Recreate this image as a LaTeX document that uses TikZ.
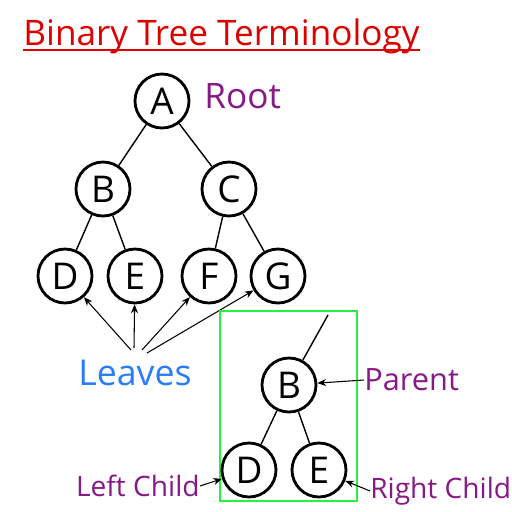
\documentclass[tikz,border=0pt]{standalone}
\usepackage{fontspec}
\setmainfont{Open Sans}
\usepackage{xcolor}
\usetikzlibrary{arrows.meta, positioning}

\definecolor{titlered}{RGB}{220,0,0}
\definecolor{notepurple}{RGB}{135,25,135}
\definecolor{leafblue}{RGB}{40,125,250}
\definecolor{boxgreen}{RGB}{40,240,60}

\begin{document}
\begin{tikzpicture}[
        x=0.02cm, y=-0.02cm,
        treenode/.style={circle, draw, line width=1.6pt, minimum size=1.08cm, inner sep=0pt, font=\fontsize{21}{24}\selectfont},
        note/.style={text=notepurple, inner sep=0pt},
        edge/.style={line width=0.8pt},
        pointer/.style={->, >={Stealth[length=5pt, width=4pt]}, line width=0.6pt}
    ]
    \useasboundingbox (0,0) rectangle (512,512);
    % title
    \node[text=titlered, anchor=base west, inner sep=0pt, font=\fontsize{20}{24}\selectfont] (title) at (23,45) {Binary Tree Terminology};
    \draw[titlered, line width=1pt] ([yshift=-3pt]title.base west) -- ([yshift=-3pt]title.base east);

    % the tree
    \node[treenode] (A) at (162,101) {A};
    \node[treenode] (B) at (103,189) {B};
    \node[treenode] (C) at (229,189) {C};
    \node[treenode] (D) at (65,276) {D};
    \node[treenode] (E) at (135,276) {E};
    \node[treenode] (F) at (209,276) {F};
    \node[treenode] (G) at (278,276) {G};
    \draw[edge] (A) -- (B);
    \draw[edge] (A) -- (C);
    \draw[edge] (B) -- (D);
    \draw[edge] (B) -- (E);
    \draw[edge] (C) -- (F);
    \draw[edge] (C) -- (G);
    \node[note, anchor=west, font=\fontsize{20}{24}\selectfont] (root) at (204,96) {Root};

    % leaves
    \node[text=leafblue, inner sep=0pt, font=\fontsize{20.3}{24}\selectfont] (leaves) at (135,373) {Leaves};
    \coordinate (l1) at (131,350);
    \coordinate (l2) at (134,348);
    \coordinate (l3) at (142,350);
    \coordinate (l4) at (147,353);
    \draw[pointer] (l1) -- (D);
    \draw[pointer] (l2) -- (E);
    \draw[pointer] (l3) -- (F);
    \draw[pointer] (l4) -- (G);

    % parent and children
    \draw[boxgreen, line width=1pt] (220,311) rectangle (357,501);
    \node[treenode] (pB) at (289,385) {B};
    \node[treenode] (pD) at (249,470) {D};
    \node[treenode] (pE) at (319,470) {E};
    \coordinate (up) at (328,315);
    \draw[edge] (pB) -- (up);
    \draw[edge] (pB) -- (pD);
    \draw[edge] (pB) -- (pE);
    \node[note, anchor=west, font=\fontsize{17.5}{22}\selectfont] (parent) at (364,380) {Parent};
    \node[note, anchor=east, font=\fontsize{16}{20}\selectfont] (left) at (200,486) {Left Child};
    \node[note, anchor=west, font=\fontsize{16}{20}\selectfont] (right) at (370,491) {Right Child};
    \draw[pointer] (parent.west) -- (pB);
    \draw[pointer] (left.east) -- (pD);
    \draw[pointer] (right.west) -- (pE);
\end{tikzpicture}
\end{document}
